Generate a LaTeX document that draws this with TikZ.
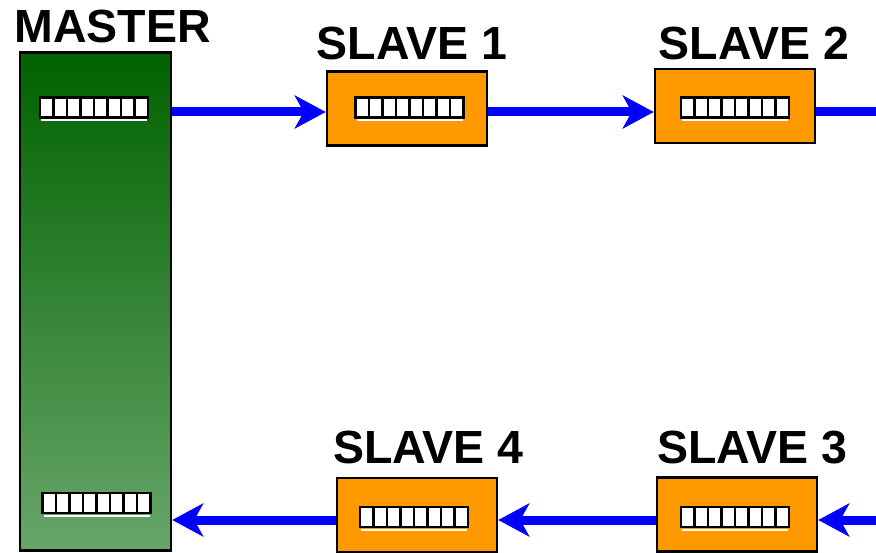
\documentclass[tikz,border=0pt]{standalone}
\usepackage{fontspec}
\setmainfont{Liberation Sans}
\usetikzlibrary{arrows.meta}
\definecolor{busblue}{RGB}{0,0,255}
\definecolor{slaveorange}{RGB}{255,153,0}
\definecolor{masterdark}{RGB}{0,98,0}
\definecolor{masterlight}{RGB}{104,166,106}
\begin{document}
\begin{tikzpicture}[x=1pt,y=-1pt,
  box/.style={draw=black,line width=2.5pt,rectangle,inner sep=0pt},
  slavebox/.style={box,fill=slaveorange,minimum width=160pt,minimum height=74pt},
  title/.style={font=\fontsize{46.5}{50}\selectfont\bfseries,anchor=base,inner sep=0pt},
  flow/.style={draw=busblue,line width=9pt,-{Stealth[length=31pt,width=33pt,inset=9pt]}},
  bus/.style={draw=busblue,line width=9pt},
  reg/.pic={
    \draw[white,line width=2pt] (-53,12.5) -- (53,12.5);
    \draw[fill=white,line width=2.4pt] (-54,-10) rectangle (54,10);
    \foreach \i in {1,...,7} \draw[line width=2.2pt] (-54+\i*13.5,-10) -- ++(0,20);
  }]
\useasboundingbox (0,0) rectangle (876,553);

% master board with its two ports
\node[box,minimum width=151pt,minimum height=498pt,
      top color=masterdark,bottom color=masterlight] (master) at (95.5,301.5) {};
\pic at (94,107.5) {reg};
\pic at (96.5,503) {reg};

% slave boards
\node[slavebox] (s1) at (407,108.5) {};
\node[slavebox] (s2) at (735,106) {};
\node[slavebox] (s3) at (737,514.5) {};
\node[slavebox] (s4) at (417,515) {};
\pic at (409.5,107.5) {reg};
\pic at (735,107.5) {reg};
\pic at (735,517) {reg};
\pic at (414,517) {reg};

% titles
\node[title] (tm) at (112.5,43) {MASTER};
\node[title] (t1) at (412,60) {SLAVE 1};
\node[title] (t2) at (754,60) {SLAVE 2};
\node[title] (t3) at (752.5,463) {SLAVE 3};
\node[title] (t4) at (428.5,463) {SLAVE 4};

% ring bus
\coordinate (busTop) at (0,112);
\coordinate (busBot) at (0,520);
\coordinate (topEnd) at (876,112);
\coordinate (botStart) at (876,520);
\draw[flow] (master.east |- busTop) -- (s1.west |- busTop);
\draw[flow] (s1.east |- busTop) -- (s2.west |- busTop);
\draw[bus] (s2.east |- busTop) -- (topEnd);
\draw[flow] (botStart) -- (s3.east |- busBot);
\draw[flow] (s3.west |- busBot) -- (s4.east |- busBot);
\draw[flow] (s4.west |- busBot) -- (master.east |- busBot);
\end{tikzpicture}
\end{document}
